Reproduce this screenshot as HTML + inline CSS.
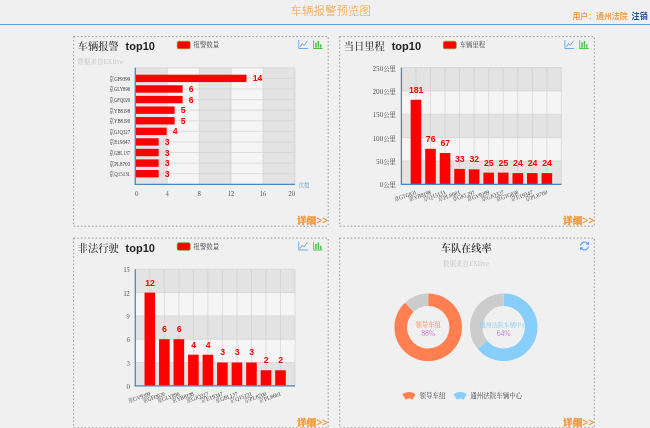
<!DOCTYPE html>
<html lang="zh-CN"><head><meta charset="utf-8"><title>车辆报警预览图</title>
<style>html,body{margin:0;padding:0;background:#f0f0f0;overflow:hidden}svg text{white-space:pre}</style></head>
<body>
<svg width="650" height="428" viewBox="0 0 650 428" style="display:block;filter:blur(0.35px)">
<rect width="650" height="428" fill="#f0f0f0"/>
<rect x="0" y="24" width="650" height="1" fill="#6b9bd1"/>
<text x="330.8" y="15.1" text-anchor="middle" font-size="11.5" fill="#f5a13f" font-weight="300" font-family='"Noto Sans CJK SC","Liberation Sans",sans-serif'>车辆报警预览图</text>
<text x="572.4" y="18.6" font-size="7.9" fill="#f0922a" font-weight="500" font-family='"Noto Sans CJK SC","Liberation Sans",sans-serif'>用户：通州法院</text>
<text x="631.6" y="18.6" font-size="8.1" fill="#1d4f9f" font-weight="bold" font-family='"Noto Sans CJK SC","Liberation Sans",sans-serif'>注销</text>
<rect x="73.6" y="36.6" width="254.6" height="189.6" fill="none" stroke="#9a9a9a" stroke-width="1" stroke-dasharray="1.6 2.05"/>
<rect x="339.7" y="36.6" width="254.6" height="189.6" fill="none" stroke="#9a9a9a" stroke-width="1" stroke-dasharray="1.6 2.05"/>
<rect x="73.6" y="238.1" width="254.6" height="189.6" fill="none" stroke="#9a9a9a" stroke-width="1" stroke-dasharray="1.6 2.05"/>
<rect x="339.7" y="238.1" width="254.6" height="189.6" fill="none" stroke="#9a9a9a" stroke-width="1" stroke-dasharray="1.6 2.05"/>
<text x="77.6" y="50.2" font-size="10.3" fill="#333" font-family='"Noto Serif CJK SC","Liberation Serif",serif' font-weight="500">车辆报警</text>
<text x="125.6" y="50.3" font-size="11" fill="#222" font-family='"Liberation Sans","Noto Sans CJK SC",sans-serif' font-weight="bold">top10</text>
<rect x="177.2" y="41.2" width="13" height="7.6" rx="1.6" fill="#ff0000" stroke="#7a9a20" stroke-width="0.6"/>
<text x="193.6" y="47.0" font-size="6.4" fill="#444" font-family='"Noto Serif CJK SC","Liberation Serif",serif'>报警数量</text>
<g fill="none" stroke="#5aa7f2" stroke-width="0.9" stroke-linecap="round" stroke-linejoin="round"><path d="M298.8 40.4V48.5H307.7"/><path d="M300.4 46.7L302.4 43.5L304.2 45.5L307.2 41.1"/></g>
<g fill="#4cc24c" stroke="none"><path d="M313.2 40.3h0.9V48.1H322.5v0.9H313.2z"/><rect x="315.2" y="42.5" width="1.5" height="5.2"/><rect x="317.6" y="40.9" width="1.5" height="6.8"/><rect x="320.0" y="44.3" width="1.5" height="3.4"/></g>
<text x="328.0" y="224.2" text-anchor="end"  font-size="9.6" fill="#f2932a" stroke="#f2932a" stroke-width="0.3" font-weight="900" font-family='"Noto Serif CJK SC","Liberation Serif",serif'>详细&gt;&gt;</text>
<text x="77.6" y="64.2" font-size="6.5" fill="#c6c6c6" font-family='"Noto Serif CJK SC","Liberation Serif",serif'>数据来自EXlive</text>
<rect x="135.30" y="67.8" width="31.94" height="116.5" fill="#e3e3e3"/>
<rect x="167.24" y="67.8" width="31.94" height="116.5" fill="#f5f5f5"/>
<rect x="199.18" y="67.8" width="31.94" height="116.5" fill="#e3e3e3"/>
<rect x="231.12" y="67.8" width="31.94" height="116.5" fill="#f5f5f5"/>
<rect x="263.06" y="67.8" width="31.94" height="116.5" fill="#e3e3e3"/>
<line x1="135.30" x2="135.30" y1="67.8" y2="184.3" stroke="#cccccc" stroke-width="0.6"/>
<line x1="167.24" x2="167.24" y1="67.8" y2="184.3" stroke="#cccccc" stroke-width="0.6"/>
<line x1="199.18" x2="199.18" y1="67.8" y2="184.3" stroke="#cccccc" stroke-width="0.6"/>
<line x1="231.12" x2="231.12" y1="67.8" y2="184.3" stroke="#cccccc" stroke-width="0.6"/>
<line x1="263.06" x2="263.06" y1="67.8" y2="184.3" stroke="#cccccc" stroke-width="0.6"/>
<line x1="295.00" x2="295.00" y1="67.8" y2="184.3" stroke="#cccccc" stroke-width="0.6"/>
<line x1="135.3" x2="295.0" y1="67.80" y2="67.80" stroke="#cccccc" stroke-width="0.6"/>
<line x1="135.3" x2="295.0" y1="78.39" y2="78.39" stroke="#cccccc" stroke-width="0.6"/>
<line x1="135.3" x2="295.0" y1="88.98" y2="88.98" stroke="#cccccc" stroke-width="0.6"/>
<line x1="135.3" x2="295.0" y1="99.57" y2="99.57" stroke="#cccccc" stroke-width="0.6"/>
<line x1="135.3" x2="295.0" y1="110.16" y2="110.16" stroke="#cccccc" stroke-width="0.6"/>
<line x1="135.3" x2="295.0" y1="120.75" y2="120.75" stroke="#cccccc" stroke-width="0.6"/>
<line x1="135.3" x2="295.0" y1="131.35" y2="131.35" stroke="#cccccc" stroke-width="0.6"/>
<line x1="135.3" x2="295.0" y1="141.94" y2="141.94" stroke="#cccccc" stroke-width="0.6"/>
<line x1="135.3" x2="295.0" y1="152.53" y2="152.53" stroke="#cccccc" stroke-width="0.6"/>
<line x1="135.3" x2="295.0" y1="163.12" y2="163.12" stroke="#cccccc" stroke-width="0.6"/>
<line x1="135.3" x2="295.0" y1="173.71" y2="173.71" stroke="#cccccc" stroke-width="0.6"/>
<rect x="135.30" y="74.69" width="111.19" height="7.4" fill="#ff0000"/>
<text x="252.69" y="81.39" font-size="8.7" font-weight="bold" fill="#ff0000" font-family='"Liberation Sans","Noto Sans CJK SC",sans-serif'>14</text>
<text x="130.1"  y="80.79" text-anchor="end" textLength="20.8" lengthAdjust="spacingAndGlyphs" font-size="5.5" fill="#444" font-family='"Liberation Serif","Noto Serif CJK SC",serif'>京GF9399</text>
<rect x="135.30" y="85.28" width="47.31" height="7.4" fill="#ff0000"/>
<text x="188.81" y="91.98" font-size="8.7" font-weight="bold" fill="#ff0000" font-family='"Liberation Sans","Noto Sans CJK SC",sans-serif'>6</text>
<text x="130.1"  y="91.38" text-anchor="end" textLength="20.8" lengthAdjust="spacingAndGlyphs" font-size="5.5" fill="#444" font-family='"Liberation Serif","Noto Serif CJK SC",serif'>京GLY896</text>
<rect x="135.30" y="95.87" width="47.31" height="7.4" fill="#ff0000"/>
<text x="188.81" y="102.57" font-size="8.7" font-weight="bold" fill="#ff0000" font-family='"Liberation Sans","Noto Sans CJK SC",sans-serif'>6</text>
<text x="130.1"  y="101.97" text-anchor="end" textLength="20.8" lengthAdjust="spacingAndGlyphs" font-size="5.5" fill="#444" font-family='"Liberation Serif","Noto Serif CJK SC",serif'>京GFQ020</text>
<rect x="135.30" y="106.46" width="39.32" height="7.4" fill="#ff0000"/>
<text x="180.82" y="113.16" font-size="8.7" font-weight="bold" fill="#ff0000" font-family='"Liberation Sans","Noto Sans CJK SC",sans-serif'>5</text>
<text x="130.1"  y="112.56" text-anchor="end" textLength="20.8" lengthAdjust="spacingAndGlyphs" font-size="5.5" fill="#444" font-family='"Liberation Serif","Noto Serif CJK SC",serif'>京YB8198</text>
<rect x="135.30" y="117.05" width="39.32" height="7.4" fill="#ff0000"/>
<text x="180.82" y="123.75" font-size="8.7" font-weight="bold" fill="#ff0000" font-family='"Liberation Sans","Noto Sans CJK SC",sans-serif'>5</text>
<text x="130.1"  y="123.15" text-anchor="end" textLength="20.8" lengthAdjust="spacingAndGlyphs" font-size="5.5" fill="#444" font-family='"Liberation Serif","Noto Serif CJK SC",serif'>京YB8190</text>
<rect x="135.30" y="127.65" width="31.34" height="7.4" fill="#ff0000"/>
<text x="172.84" y="134.35" font-size="8.7" font-weight="bold" fill="#ff0000" font-family='"Liberation Sans","Noto Sans CJK SC",sans-serif'>4</text>
<text x="130.1"  y="133.75" text-anchor="end" textLength="20.8" lengthAdjust="spacingAndGlyphs" font-size="5.5" fill="#444" font-family='"Liberation Serif","Noto Serif CJK SC",serif'>京GJQ327</text>
<rect x="135.30" y="138.24" width="23.35" height="7.4" fill="#ff0000"/>
<text x="164.85" y="144.94" font-size="8.7" font-weight="bold" fill="#ff0000" font-family='"Liberation Sans","Noto Sans CJK SC",sans-serif'>3</text>
<text x="130.1"  y="144.34" text-anchor="end" textLength="20.8" lengthAdjust="spacingAndGlyphs" font-size="5.5" fill="#444" font-family='"Liberation Serif","Noto Serif CJK SC",serif'>京E19347</text>
<rect x="135.30" y="148.83" width="23.35" height="7.4" fill="#ff0000"/>
<text x="164.85" y="155.53" font-size="8.7" font-weight="bold" fill="#ff0000" font-family='"Liberation Sans","Noto Sans CJK SC",sans-serif'>3</text>
<text x="130.1"  y="154.93" text-anchor="end" textLength="20.8" lengthAdjust="spacingAndGlyphs" font-size="5.5" fill="#444" font-family='"Liberation Serif","Noto Serif CJK SC",serif'>京GBL137</text>
<rect x="135.30" y="159.42" width="23.35" height="7.4" fill="#ff0000"/>
<text x="164.85" y="166.12" font-size="8.7" font-weight="bold" fill="#ff0000" font-family='"Liberation Sans","Noto Sans CJK SC",sans-serif'>3</text>
<text x="130.1"  y="165.52" text-anchor="end" textLength="20.8" lengthAdjust="spacingAndGlyphs" font-size="5.5" fill="#444" font-family='"Liberation Serif","Noto Serif CJK SC",serif'>京PL8700</text>
<rect x="135.30" y="170.01" width="23.35" height="7.4" fill="#ff0000"/>
<text x="164.85" y="176.71" font-size="8.7" font-weight="bold" fill="#ff0000" font-family='"Liberation Sans","Noto Sans CJK SC",sans-serif'>3</text>
<text x="130.1"  y="176.11" text-anchor="end" textLength="20.8" lengthAdjust="spacingAndGlyphs" font-size="5.5" fill="#444" font-family='"Liberation Serif","Noto Serif CJK SC",serif'>京Q15131</text>
<line x1="135.3" x2="135.3" y1="67.8" y2="184.8" stroke="#4a88c2" stroke-width="1.3"/>
<line x1="134.8" x2="295.0" y1="184.3" y2="184.3" stroke="#4a88c2" stroke-width="1.3"/>
<text x="136.7" y="195.9" text-anchor="middle" font-size="6.3" fill="#444" font-family='"Noto Serif CJK SC","Liberation Serif",serif'>0</text>
<text x="167.2" y="195.9" text-anchor="middle" font-size="6.3" fill="#444" font-family='"Noto Serif CJK SC","Liberation Serif",serif'>4</text>
<text x="199.2" y="195.9" text-anchor="middle" font-size="6.3" fill="#444" font-family='"Noto Serif CJK SC","Liberation Serif",serif'>8</text>
<text x="231.1" y="195.9" text-anchor="middle" font-size="6.3" fill="#444" font-family='"Noto Serif CJK SC","Liberation Serif",serif'>12</text>
<text x="263.1" y="195.9" text-anchor="middle" font-size="6.3" fill="#444" font-family='"Noto Serif CJK SC","Liberation Serif",serif'>16</text>
<text x="295.2" y="195.9" text-anchor="end" font-size="6.3" fill="#444" font-family='"Noto Serif CJK SC","Liberation Serif",serif'>20</text>
<text x="298.6" y="186.5" font-size="5.5" fill="#6a9fd2" font-family='"Noto Serif CJK SC","Liberation Serif",serif'>次数</text>
<text x="343.7" y="50.2" font-size="10.3" fill="#333" font-family='"Noto Serif CJK SC","Liberation Serif",serif' font-weight="500">当日里程</text>
<text x="391.7" y="50.3" font-size="11" fill="#222" font-family='"Liberation Sans","Noto Sans CJK SC",sans-serif' font-weight="bold">top10</text>
<rect x="443.3" y="41.2" width="13" height="7.6" rx="1.6" fill="#ff0000" stroke="#7a9a20" stroke-width="0.6"/>
<text x="459.7" y="47.0" font-size="6.4" fill="#444" font-family='"Noto Serif CJK SC","Liberation Serif",serif'>车辆里程</text>
<g fill="none" stroke="#5aa7f2" stroke-width="0.9" stroke-linecap="round" stroke-linejoin="round"><path d="M564.9 40.4V48.5H573.8"/><path d="M566.5 46.7L568.5 43.5L570.3 45.5L573.3 41.1"/></g>
<g fill="#4cc24c" stroke="none"><path d="M579.3 40.3h0.9V48.1H588.6v0.9H579.3z"/><rect x="581.3" y="42.5" width="1.5" height="5.2"/><rect x="583.7" y="40.9" width="1.5" height="6.8"/><rect x="586.1" y="44.3" width="1.5" height="3.4"/></g>
<text x="594.1" y="224.2" text-anchor="end"  font-size="9.6" fill="#f2932a" stroke="#f2932a" stroke-width="0.3" font-weight="900" font-family='"Noto Serif CJK SC","Liberation Serif",serif'>详细&gt;&gt;</text>
<rect x="401.4" y="160.96" width="160.0" height="23.34" fill="#e3e3e3"/>
<rect x="401.4" y="137.62" width="160.0" height="23.34" fill="#f5f5f5"/>
<rect x="401.4" y="114.28" width="160.0" height="23.34" fill="#e3e3e3"/>
<rect x="401.4" y="90.94" width="160.0" height="23.34" fill="#f5f5f5"/>
<rect x="401.4" y="67.60" width="160.0" height="23.34" fill="#e3e3e3"/>
<line x1="401.4" x2="561.4" y1="184.30" y2="184.30" stroke="#cccccc" stroke-width="0.6"/>
<line x1="401.4" x2="561.4" y1="160.96" y2="160.96" stroke="#cccccc" stroke-width="0.6"/>
<line x1="401.4" x2="561.4" y1="137.62" y2="137.62" stroke="#cccccc" stroke-width="0.6"/>
<line x1="401.4" x2="561.4" y1="114.28" y2="114.28" stroke="#cccccc" stroke-width="0.6"/>
<line x1="401.4" x2="561.4" y1="90.94" y2="90.94" stroke="#cccccc" stroke-width="0.6"/>
<line x1="401.4" x2="561.4" y1="67.60" y2="67.60" stroke="#cccccc" stroke-width="0.6"/>
<line x1="415.95" x2="415.95" y1="67.6" y2="184.3" stroke="#cccccc" stroke-width="0.6"/>
<line x1="430.49" x2="430.49" y1="67.6" y2="184.3" stroke="#cccccc" stroke-width="0.6"/>
<line x1="445.04" x2="445.04" y1="67.6" y2="184.3" stroke="#cccccc" stroke-width="0.6"/>
<line x1="459.58" x2="459.58" y1="67.6" y2="184.3" stroke="#cccccc" stroke-width="0.6"/>
<line x1="474.13" x2="474.13" y1="67.6" y2="184.3" stroke="#cccccc" stroke-width="0.6"/>
<line x1="488.67" x2="488.67" y1="67.6" y2="184.3" stroke="#cccccc" stroke-width="0.6"/>
<line x1="503.22" x2="503.22" y1="67.6" y2="184.3" stroke="#cccccc" stroke-width="0.6"/>
<line x1="517.76" x2="517.76" y1="67.6" y2="184.3" stroke="#cccccc" stroke-width="0.6"/>
<line x1="532.31" x2="532.31" y1="67.6" y2="184.3" stroke="#cccccc" stroke-width="0.6"/>
<line x1="546.85" x2="546.85" y1="67.6" y2="184.3" stroke="#cccccc" stroke-width="0.6"/>
<line x1="561.40" x2="561.40" y1="67.6" y2="184.3" stroke="#cccccc" stroke-width="0.6"/>
<rect x="410.65" y="99.81" width="10.6" height="84.49" fill="#ff0000"/>
<text x="416.15" y="92.71" text-anchor="middle" font-size="8.7" font-weight="bold" fill="#ff0000" font-family='"Liberation Sans","Noto Sans CJK SC",sans-serif'>181</text>
<rect x="425.19" y="148.82" width="10.6" height="35.48" fill="#ff0000"/>
<text x="430.69" y="141.72" text-anchor="middle" font-size="8.7" font-weight="bold" fill="#ff0000" font-family='"Liberation Sans","Noto Sans CJK SC",sans-serif'>76</text>
<rect x="439.74" y="153.02" width="10.6" height="31.28" fill="#ff0000"/>
<text x="445.24" y="145.92" text-anchor="middle" font-size="8.7" font-weight="bold" fill="#ff0000" font-family='"Liberation Sans","Noto Sans CJK SC",sans-serif'>67</text>
<rect x="454.28" y="168.90" width="10.6" height="15.40" fill="#ff0000"/>
<text x="459.78" y="161.80" text-anchor="middle" font-size="8.7" font-weight="bold" fill="#ff0000" font-family='"Liberation Sans","Noto Sans CJK SC",sans-serif'>33</text>
<rect x="468.83" y="169.36" width="10.6" height="14.94" fill="#ff0000"/>
<text x="474.33" y="162.26" text-anchor="middle" font-size="8.7" font-weight="bold" fill="#ff0000" font-family='"Liberation Sans","Noto Sans CJK SC",sans-serif'>32</text>
<rect x="483.37" y="172.63" width="10.6" height="11.67" fill="#ff0000"/>
<text x="488.87" y="165.53" text-anchor="middle" font-size="8.7" font-weight="bold" fill="#ff0000" font-family='"Liberation Sans","Noto Sans CJK SC",sans-serif'>25</text>
<rect x="497.92" y="172.63" width="10.6" height="11.67" fill="#ff0000"/>
<text x="503.42" y="165.53" text-anchor="middle" font-size="8.7" font-weight="bold" fill="#ff0000" font-family='"Liberation Sans","Noto Sans CJK SC",sans-serif'>25</text>
<rect x="512.46" y="173.10" width="10.6" height="11.20" fill="#ff0000"/>
<text x="517.96" y="166.00" text-anchor="middle" font-size="8.7" font-weight="bold" fill="#ff0000" font-family='"Liberation Sans","Noto Sans CJK SC",sans-serif'>24</text>
<rect x="527.01" y="173.10" width="10.6" height="11.20" fill="#ff0000"/>
<text x="532.51" y="166.00" text-anchor="middle" font-size="8.7" font-weight="bold" fill="#ff0000" font-family='"Liberation Sans","Noto Sans CJK SC",sans-serif'>24</text>
<rect x="541.55" y="173.10" width="10.6" height="11.20" fill="#ff0000"/>
<text x="547.05" y="166.00" text-anchor="middle" font-size="8.7" font-weight="bold" fill="#ff0000" font-family='"Liberation Sans","Noto Sans CJK SC",sans-serif'>24</text>
<line x1="401.4" x2="401.4" y1="67.6" y2="184.8" stroke="#4a88c2" stroke-width="1.3"/>
<line x1="400.9" x2="561.4" y1="184.3" y2="184.3" stroke="#4a88c2" stroke-width="1.3"/>
<text x="396.0" y="187.30" text-anchor="end" font-size="6.4" fill="#444" font-family='"Noto Serif CJK SC","Liberation Serif",serif'>0公里</text>
<text x="396.0" y="163.96" text-anchor="end" font-size="6.4" fill="#444" font-family='"Noto Serif CJK SC","Liberation Serif",serif'>50公里</text>
<text x="396.0" y="140.62" text-anchor="end" font-size="6.4" fill="#444" font-family='"Noto Serif CJK SC","Liberation Serif",serif'>100公里</text>
<text x="396.0" y="117.28" text-anchor="end" font-size="6.4" fill="#444" font-family='"Noto Serif CJK SC","Liberation Serif",serif'>150公里</text>
<text x="396.0" y="93.94" text-anchor="end" font-size="6.4" fill="#444" font-family='"Noto Serif CJK SC","Liberation Serif",serif'>200公里</text>
<text x="396.0" y="70.60" text-anchor="end" font-size="6.4" fill="#444" font-family='"Noto Serif CJK SC","Liberation Serif",serif'>250公里</text>
<text transform="translate(416.95 193.90) rotate(-19)" text-anchor="end" textLength="23.2" lengthAdjust="spacingAndGlyphs" font-size="5.8" fill="#444" font-family='"Liberation Serif","Noto Serif CJK SC",serif'>京GTG831</text>
<text transform="translate(431.49 193.90) rotate(-19)" text-anchor="end" textLength="23.2" lengthAdjust="spacingAndGlyphs" font-size="5.8" fill="#444" font-family='"Liberation Serif","Noto Serif CJK SC",serif'>京YB8198</text>
<text transform="translate(446.04 193.90) rotate(-19)" text-anchor="end" textLength="23.2" lengthAdjust="spacingAndGlyphs" font-size="5.8" fill="#444" font-family='"Liberation Serif","Noto Serif CJK SC",serif'>京Q15131</text>
<text transform="translate(460.58 193.90) rotate(-19)" text-anchor="end" textLength="23.2" lengthAdjust="spacingAndGlyphs" font-size="5.8" fill="#444" font-family='"Liberation Serif","Noto Serif CJK SC",serif'>京PL8681</text>
<text transform="translate(475.13 193.90) rotate(-19)" text-anchor="end" textLength="23.2" lengthAdjust="spacingAndGlyphs" font-size="5.8" fill="#444" font-family='"Liberation Serif","Noto Serif CJK SC",serif'>京GKL297</text>
<text transform="translate(489.67 193.90) rotate(-19)" text-anchor="end" textLength="23.2" lengthAdjust="spacingAndGlyphs" font-size="5.8" fill="#444" font-family='"Liberation Serif","Noto Serif CJK SC",serif'>京GV9399</text>
<text transform="translate(504.22 193.90) rotate(-19)" text-anchor="end" textLength="23.2" lengthAdjust="spacingAndGlyphs" font-size="5.8" fill="#444" font-family='"Liberation Serif","Noto Serif CJK SC",serif'>京GJQ327</text>
<text transform="translate(518.76 193.90) rotate(-19)" text-anchor="end" textLength="23.2" lengthAdjust="spacingAndGlyphs" font-size="5.8" fill="#444" font-family='"Liberation Serif","Noto Serif CJK SC",serif'>京GTG838</text>
<text transform="translate(533.31 193.90) rotate(-19)" text-anchor="end" textLength="23.2" lengthAdjust="spacingAndGlyphs" font-size="5.8" fill="#444" font-family='"Liberation Serif","Noto Serif CJK SC",serif'>京E19347</text>
<text transform="translate(547.85 193.90) rotate(-19)" text-anchor="end" textLength="23.2" lengthAdjust="spacingAndGlyphs" font-size="5.8" fill="#444" font-family='"Liberation Serif","Noto Serif CJK SC",serif'>京PL8700</text>
<text x="77.6" y="251.7" font-size="10.3" fill="#333" font-family='"Noto Serif CJK SC","Liberation Serif",serif' font-weight="500">非法行驶</text>
<text x="125.6" y="251.8" font-size="11" fill="#222" font-family='"Liberation Sans","Noto Sans CJK SC",sans-serif' font-weight="bold">top10</text>
<rect x="177.2" y="242.7" width="13" height="7.6" rx="1.6" fill="#ff0000" stroke="#7a9a20" stroke-width="0.6"/>
<text x="193.6" y="248.5" font-size="6.4" fill="#444" font-family='"Noto Serif CJK SC","Liberation Serif",serif'>报警数量</text>
<g fill="none" stroke="#5aa7f2" stroke-width="0.9" stroke-linecap="round" stroke-linejoin="round"><path d="M298.8 241.9V250.0H307.7"/><path d="M300.4 248.2L302.4 245.0L304.2 247.0L307.2 242.6"/></g>
<g fill="#4cc24c" stroke="none"><path d="M313.2 241.8h0.9V249.6H322.5v0.9H313.2z"/><rect x="315.2" y="244.0" width="1.5" height="5.2"/><rect x="317.6" y="242.4" width="1.5" height="6.8"/><rect x="320.0" y="245.8" width="1.5" height="3.4"/></g>
<text x="328.0" y="425.7" text-anchor="end"  font-size="9.6" fill="#f2932a" stroke="#f2932a" stroke-width="0.3" font-weight="900" font-family='"Noto Serif CJK SC","Liberation Serif",serif'>详细&gt;&gt;</text>
<rect x="135.3" y="362.50" width="159.7" height="23.30" fill="#e3e3e3"/>
<rect x="135.3" y="339.20" width="159.7" height="23.30" fill="#f5f5f5"/>
<rect x="135.3" y="315.90" width="159.7" height="23.30" fill="#e3e3e3"/>
<rect x="135.3" y="292.60" width="159.7" height="23.30" fill="#f5f5f5"/>
<rect x="135.3" y="269.30" width="159.7" height="23.30" fill="#e3e3e3"/>
<line x1="135.3" x2="295.0" y1="385.80" y2="385.80" stroke="#cccccc" stroke-width="0.6"/>
<line x1="135.3" x2="295.0" y1="362.50" y2="362.50" stroke="#cccccc" stroke-width="0.6"/>
<line x1="135.3" x2="295.0" y1="339.20" y2="339.20" stroke="#cccccc" stroke-width="0.6"/>
<line x1="135.3" x2="295.0" y1="315.90" y2="315.90" stroke="#cccccc" stroke-width="0.6"/>
<line x1="135.3" x2="295.0" y1="292.60" y2="292.60" stroke="#cccccc" stroke-width="0.6"/>
<line x1="135.3" x2="295.0" y1="269.30" y2="269.30" stroke="#cccccc" stroke-width="0.6"/>
<line x1="149.82" x2="149.82" y1="269.3" y2="385.8" stroke="#cccccc" stroke-width="0.6"/>
<line x1="164.34" x2="164.34" y1="269.3" y2="385.8" stroke="#cccccc" stroke-width="0.6"/>
<line x1="178.85" x2="178.85" y1="269.3" y2="385.8" stroke="#cccccc" stroke-width="0.6"/>
<line x1="193.37" x2="193.37" y1="269.3" y2="385.8" stroke="#cccccc" stroke-width="0.6"/>
<line x1="207.89" x2="207.89" y1="269.3" y2="385.8" stroke="#cccccc" stroke-width="0.6"/>
<line x1="222.41" x2="222.41" y1="269.3" y2="385.8" stroke="#cccccc" stroke-width="0.6"/>
<line x1="236.93" x2="236.93" y1="269.3" y2="385.8" stroke="#cccccc" stroke-width="0.6"/>
<line x1="251.45" x2="251.45" y1="269.3" y2="385.8" stroke="#cccccc" stroke-width="0.6"/>
<line x1="265.96" x2="265.96" y1="269.3" y2="385.8" stroke="#cccccc" stroke-width="0.6"/>
<line x1="280.48" x2="280.48" y1="269.3" y2="385.8" stroke="#cccccc" stroke-width="0.6"/>
<line x1="295.00" x2="295.00" y1="269.3" y2="385.8" stroke="#cccccc" stroke-width="0.6"/>
<rect x="144.52" y="292.60" width="10.6" height="93.20" fill="#ff0000"/>
<text x="150.02" y="285.50" text-anchor="middle" font-size="8.7" font-weight="bold" fill="#ff0000" font-family='"Liberation Sans","Noto Sans CJK SC",sans-serif'>12</text>
<rect x="159.04" y="339.20" width="10.6" height="46.60" fill="#ff0000"/>
<text x="164.54" y="332.10" text-anchor="middle" font-size="8.7" font-weight="bold" fill="#ff0000" font-family='"Liberation Sans","Noto Sans CJK SC",sans-serif'>6</text>
<rect x="173.55" y="339.20" width="10.6" height="46.60" fill="#ff0000"/>
<text x="179.05" y="332.10" text-anchor="middle" font-size="8.7" font-weight="bold" fill="#ff0000" font-family='"Liberation Sans","Noto Sans CJK SC",sans-serif'>6</text>
<rect x="188.07" y="354.73" width="10.6" height="31.07" fill="#ff0000"/>
<text x="193.57" y="347.63" text-anchor="middle" font-size="8.7" font-weight="bold" fill="#ff0000" font-family='"Liberation Sans","Noto Sans CJK SC",sans-serif'>4</text>
<rect x="202.59" y="354.73" width="10.6" height="31.07" fill="#ff0000"/>
<text x="208.09" y="347.63" text-anchor="middle" font-size="8.7" font-weight="bold" fill="#ff0000" font-family='"Liberation Sans","Noto Sans CJK SC",sans-serif'>4</text>
<rect x="217.11" y="362.50" width="10.6" height="23.30" fill="#ff0000"/>
<text x="222.61" y="355.40" text-anchor="middle" font-size="8.7" font-weight="bold" fill="#ff0000" font-family='"Liberation Sans","Noto Sans CJK SC",sans-serif'>3</text>
<rect x="231.63" y="362.50" width="10.6" height="23.30" fill="#ff0000"/>
<text x="237.13" y="355.40" text-anchor="middle" font-size="8.7" font-weight="bold" fill="#ff0000" font-family='"Liberation Sans","Noto Sans CJK SC",sans-serif'>3</text>
<rect x="246.15" y="362.50" width="10.6" height="23.30" fill="#ff0000"/>
<text x="251.65" y="355.40" text-anchor="middle" font-size="8.7" font-weight="bold" fill="#ff0000" font-family='"Liberation Sans","Noto Sans CJK SC",sans-serif'>3</text>
<rect x="260.66" y="370.27" width="10.6" height="15.53" fill="#ff0000"/>
<text x="266.16" y="363.17" text-anchor="middle" font-size="8.7" font-weight="bold" fill="#ff0000" font-family='"Liberation Sans","Noto Sans CJK SC",sans-serif'>2</text>
<rect x="275.18" y="370.27" width="10.6" height="15.53" fill="#ff0000"/>
<text x="280.68" y="363.17" text-anchor="middle" font-size="8.7" font-weight="bold" fill="#ff0000" font-family='"Liberation Sans","Noto Sans CJK SC",sans-serif'>2</text>
<line x1="135.3" x2="135.3" y1="269.3" y2="386.3" stroke="#4a88c2" stroke-width="1.3"/>
<line x1="134.8" x2="295.0" y1="385.8" y2="385.8" stroke="#4a88c2" stroke-width="1.3"/>
<text x="129.9" y="388.80" text-anchor="end" font-size="6.3" fill="#444" font-family='"Noto Serif CJK SC","Liberation Serif",serif'>0</text>
<text x="129.9" y="365.50" text-anchor="end" font-size="6.3" fill="#444" font-family='"Noto Serif CJK SC","Liberation Serif",serif'>3</text>
<text x="129.9" y="342.20" text-anchor="end" font-size="6.3" fill="#444" font-family='"Noto Serif CJK SC","Liberation Serif",serif'>6</text>
<text x="129.9" y="318.90" text-anchor="end" font-size="6.3" fill="#444" font-family='"Noto Serif CJK SC","Liberation Serif",serif'>9</text>
<text x="129.9" y="295.60" text-anchor="end" font-size="6.3" fill="#444" font-family='"Noto Serif CJK SC","Liberation Serif",serif'>12</text>
<text x="129.9" y="272.30" text-anchor="end" font-size="6.3" fill="#444" font-family='"Noto Serif CJK SC","Liberation Serif",serif'>15</text>
<text transform="translate(150.82 395.40) rotate(-19)" text-anchor="end" textLength="23.2" lengthAdjust="spacingAndGlyphs" font-size="5.8" fill="#444" font-family='"Liberation Serif","Noto Serif CJK SC",serif'>京GV9399</text>
<text transform="translate(165.34 395.40) rotate(-19)" text-anchor="end" textLength="23.2" lengthAdjust="spacingAndGlyphs" font-size="5.8" fill="#444" font-family='"Liberation Serif","Noto Serif CJK SC",serif'>京GFQ020</text>
<text transform="translate(179.85 395.40) rotate(-19)" text-anchor="end" textLength="23.2" lengthAdjust="spacingAndGlyphs" font-size="5.8" fill="#444" font-family='"Liberation Serif","Noto Serif CJK SC",serif'>京GLY896</text>
<text transform="translate(194.37 395.40) rotate(-19)" text-anchor="end" textLength="23.2" lengthAdjust="spacingAndGlyphs" font-size="5.8" fill="#444" font-family='"Liberation Serif","Noto Serif CJK SC",serif'>京YB8198</text>
<text transform="translate(208.89 395.40) rotate(-19)" text-anchor="end" textLength="23.2" lengthAdjust="spacingAndGlyphs" font-size="5.8" fill="#444" font-family='"Liberation Serif","Noto Serif CJK SC",serif'>京GJQ327</text>
<text transform="translate(223.41 395.40) rotate(-19)" text-anchor="end" textLength="23.2" lengthAdjust="spacingAndGlyphs" font-size="5.8" fill="#444" font-family='"Liberation Serif","Noto Serif CJK SC",serif'>京E19347</text>
<text transform="translate(237.93 395.40) rotate(-19)" text-anchor="end" textLength="23.2" lengthAdjust="spacingAndGlyphs" font-size="5.8" fill="#444" font-family='"Liberation Serif","Noto Serif CJK SC",serif'>京GBL137</text>
<text transform="translate(252.45 395.40) rotate(-19)" text-anchor="end" textLength="23.2" lengthAdjust="spacingAndGlyphs" font-size="5.8" fill="#444" font-family='"Liberation Serif","Noto Serif CJK SC",serif'>京Q15131</text>
<text transform="translate(266.96 395.40) rotate(-19)" text-anchor="end" textLength="23.2" lengthAdjust="spacingAndGlyphs" font-size="5.8" fill="#444" font-family='"Liberation Serif","Noto Serif CJK SC",serif'>京PL8700</text>
<text transform="translate(281.48 395.40) rotate(-19)" text-anchor="end" textLength="23.2" lengthAdjust="spacingAndGlyphs" font-size="5.8" fill="#444" font-family='"Liberation Serif","Noto Serif CJK SC",serif'>京PL8681</text>
<text x="594.1" y="425.7" text-anchor="end"  font-size="9.6" fill="#f2932a" stroke="#f2932a" stroke-width="0.3" font-weight="900" font-family='"Noto Serif CJK SC","Liberation Serif",serif'>详细&gt;&gt;</text>
<text x="466.2" y="251.6" text-anchor="middle" font-size="10.2" fill="#333" font-weight="600" font-family='"Noto Serif CJK SC","Liberation Serif",serif'>车队在线率</text>
<text x="466" y="266" text-anchor="middle" font-size="6.5" fill="#c6c6c6" font-family='"Noto Serif CJK SC","Liberation Serif",serif'>数据来自EXlive</text>
<g fill="none" stroke="#4a9ff5" stroke-width="1.1" stroke-linecap="round"><path d="M580.6 245.2A4 4 0 0 1 587.7 243.6"/><path d="M588.4 246.8A4 4 0 0 1 581.3 248.4"/></g>
<path d="M588.9 241.6v3.2h-3.2z" fill="#4a9ff5"/><path d="M580.1 250.4v-3.2h3.2z" fill="#4a9ff5"/>
<path d="M428.20 293.50A33.8 33.8 0 1 1 405.06 302.66L413.69 311.85A21.2 21.2 0 1 0 428.20 306.10Z" fill="#ff7f50"/>
<path d="M405.06 302.66A33.8 33.8 0 0 1 428.20 293.50L428.20 306.10A21.2 21.2 0 0 0 413.69 311.85Z" fill="#cccccc"/>
<text x="428.2" y="326.8" text-anchor="middle" font-size="6.4" fill="#ff7f50" font-family='"Noto Serif CJK SC","Liberation Serif",serif'>领导车组</text>
<text x="428.2" y="335.5" text-anchor="middle" font-size="7.6" fill="#da70d6" font-family='"Liberation Serif","Noto Serif CJK SC",serif'>88%</text>
<path d="M503.70 293.50A33.8 33.8 0 1 1 477.66 348.84L487.37 340.81A21.2 21.2 0 1 0 503.70 306.10Z" fill="#87cefa"/>
<path d="M477.66 348.84A33.8 33.8 0 0 1 503.70 293.50L503.70 306.10A21.2 21.2 0 0 0 487.37 340.81Z" fill="#cccccc"/>
<text x="503.7" y="326.8" text-anchor="middle" font-size="6.0" fill="#87cefa" font-family='"Noto Serif CJK SC","Liberation Serif",serif'>通州法院车辆中心</text>
<text x="503.7" y="335.5" text-anchor="middle" font-size="7.6" fill="#da70d6" font-family='"Liberation Serif","Noto Serif CJK SC",serif'>64%</text>
<path d="M402.32 394.21A12.6 12.6 0 0 1 415.68 394.21L412.29 399.64A6.2 6.2 0 0 0 405.71 399.64Z" fill="#ff7f50"/>
<text x="419.6" y="398.4" font-size="6.5" fill="#444" font-family='"Noto Serif CJK SC","Liberation Serif",serif'>领导车组</text>
<path d="M453.52 394.21A12.6 12.6 0 0 1 466.88 394.21L463.49 399.64A6.2 6.2 0 0 0 456.91 399.64Z" fill="#87cefa"/>
<text x="470.2" y="398.4" font-size="6.5" fill="#444" font-family='"Noto Serif CJK SC","Liberation Serif",serif'>通州法院车辆中心</text>
</svg>
</body></html>
